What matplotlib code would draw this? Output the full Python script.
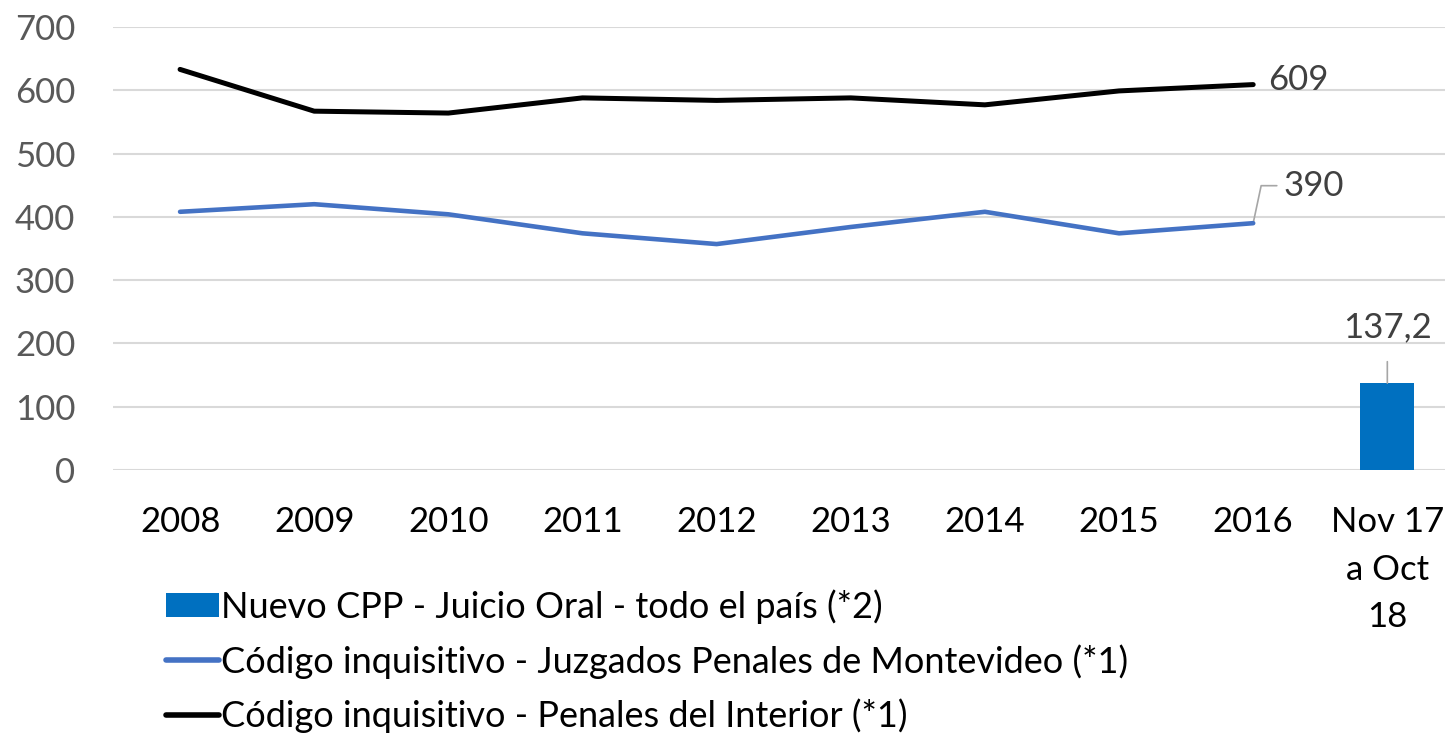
import matplotlib.pyplot as plt
import numpy as np

categories = ['2008', '2009', '2010', '2011', '2012', '2013', '2014', '2015', '2016', 'Nov 17\na Oct\n18']
montevideo = [408, 420, 404, 374, 357, 384, 408, 374, 390]
interior = [633, 567, 564, 588, 584, 588, 577, 599, 609]
nuevo_cpp = [137.2]

plt.rcParams['font.family'] = ['Lato', 'DejaVu Sans']

fig = plt.figure(figsize=(14.45, 7.35), dpi=100)
ax = fig.add_axes([113 / 1445, 1 - 470 / 735, 1 - 113 / 1445, (470 - 27) / 735])

x = np.arange(len(categories))
bar = ax.bar(x[-1:], nuevo_cpp, width=0.4, color='#0070C0', zorder=3,
             label='Nuevo CPP - Juicio Oral - todo el país (*2)')
l1, = ax.plot(x[:9], montevideo, color='#4472C4', lw=3.3, solid_capstyle='round', zorder=4,
              label='Código inquisitivo - Juzgados Penales de Montevideo (*1)')
l2, = ax.plot(x[:9], interior, color='black', lw=3.6, solid_capstyle='round', zorder=4,
              label='Código inquisitivo - Penales del Interior (*1)')

ax.set_ylim(0, 700)
ax.set_xlim(-0.5, 9.43)
ax.set_yticks(range(0, 701, 100))
ax.set_xticks(x)
ax.set_xticklabels(categories, fontsize=25, color='black', linespacing=1.6)
ax.tick_params(axis='y', labelsize=25, labelcolor='#595959', length=0, pad=27)
ax.tick_params(axis='x', length=0, pad=26)
ax.grid(axis='y', color='#d9d9d9', lw=1.5, zorder=0)
for s in ax.spines.values():
    s.set_visible(False)

# data labels
ax.annotate(f'{interior[-1]}', (x[8], interior[-1]), xytext=(11, 3), textcoords='offset points',
            fontsize=25, color='#404040', va='center', ha='left')
ax.annotate(f'{montevideo[-1]}', (x[8], montevideo[-1]), xytext=(22, 27), textcoords='offset points',
            fontsize=25, color='#404040', va='center', ha='left',
            arrowprops=dict(arrowstyle='-', color='#a6a6a6', lw=1.2,
                            connectionstyle='angle,angleA=0,angleB=78,rad=0',
                            shrinkA=3, shrinkB=0))
ax.annotate(f'{nuevo_cpp[0]}'.replace('.', ','), (x[-1], nuevo_cpp[0]), xytext=(0, 40),
            textcoords='offset points', fontsize=25, color='#404040', va='center', ha='center',
            arrowprops=dict(arrowstyle='-', color='#a6a6a6', lw=1.2, shrinkA=11, shrinkB=0))

leg = fig.legend(handles=[bar, l1, l2], loc='upper left', bbox_to_anchor=(152 / 1445, 1 - 575 / 735),
                 frameon=False, fontsize=26, handlelength=1.45, handleheight=0.65, handletextpad=0.06,
                 labelspacing=0.55, borderaxespad=0)
for h in leg.get_lines():
    h.set_linewidth(4)

fig.savefig('out.png', dpi=100)
